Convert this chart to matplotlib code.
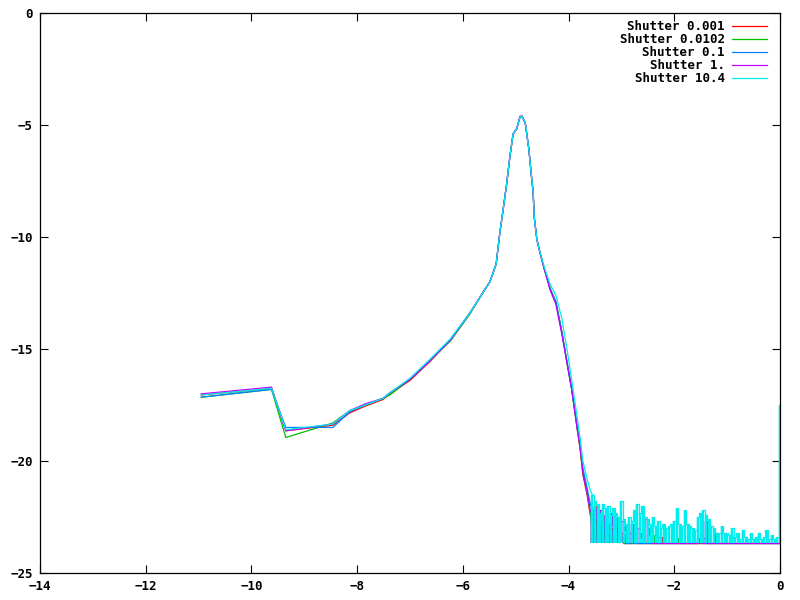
import matplotlib
matplotlib.use("Agg")
import matplotlib.pyplot as plt

# colours as in gnuplot's default line types
colors = ['#ff0000', '#00c000', '#0080ff', '#c000ff', '#00eeee']
labels = ['Shutter 0.001', 'Shutter 0.0102', 'Shutter 0.1', 'Shutter 1.', 'Shutter 10.4']

# main part of the curve (shared x samples)
x_main = [-10.95, -9.62, -9.35, -8.46, -8.14, -7.85, -7.51, -7.38, -7.0, -6.62,
          -6.24, -5.87, -5.68, -5.49, -5.37, -5.30, -5.24, -5.17, -5.11, -5.05,
          -4.98, -4.92, -4.88, -4.82, -4.79, -4.75, -4.71, -4.67, -4.65, -4.60,
          -4.54, -4.45, -4.35, -4.24, -4.13, -4.03, -3.94, -3.84, -3.78, -3.73,
          -3.65, -3.59]

y_red = [-17.05, -16.75, -18.65, -18.40, -17.85, -17.55, -17.25, -17.00, -16.40, -15.55,
         -14.60, -13.40, -12.70, -12.00, -11.20, -9.80, -8.80, -7.60, -6.40, -5.40,
         -5.15, -4.65, -4.60, -4.90, -5.40, -6.10, -7.10, -8.00, -9.10, -10.10,
         -10.70, -11.50, -12.30, -12.90, -14.20, -15.60, -16.80, -18.50, -19.50, -20.60,
         -21.50, -22.40]
y_green = [-17.15, -16.80, -18.95, -18.30, -17.75, -17.50, -17.20, -17.05, -16.35, -15.50,
           -14.65, -13.45, -12.70, -12.00, -11.20, -9.80, -8.80, -7.60, -6.40, -5.40,
           -5.15, -4.65, -4.60, -4.90, -5.40, -6.10, -7.10, -8.00, -9.10, -10.10,
           -10.70, -11.50, -12.30, -12.90, -14.20, -15.60, -16.80, -18.50, -19.40, -20.50,
           -21.40, -22.30]
y_blue = [-17.15, -16.80, -18.50, -18.50, -17.80, -17.50, -17.20, -16.95, -16.35, -15.50,
          -14.60, -13.40, -12.70, -12.00, -11.20, -9.80, -8.80, -7.60, -6.40, -5.40,
          -5.15, -4.65, -4.60, -4.90, -5.40, -6.10, -7.10, -8.00, -9.10, -10.10,
          -10.70, -11.50, -12.30, -12.90, -14.20, -15.60, -16.80, -18.40, -19.30, -20.30,
          -21.20, -21.90]
y_magenta = [-17.00, -16.70, -18.65, -18.35, -17.75, -17.45, -17.20, -16.95, -16.35, -15.50,
             -14.60, -13.40, -12.70, -12.00, -11.20, -9.80, -8.80, -7.60, -6.40, -5.40,
             -5.15, -4.60, -4.60, -4.90, -5.40, -6.10, -7.10, -8.00, -9.10, -10.10,
             -10.70, -11.50, -12.35, -13.00, -14.30, -15.60, -16.80, -18.50, -19.40, -20.50,
             -21.40, -22.20]
y_cyan = [-17.05, -16.75, -18.60, -18.35, -17.75, -17.50, -17.20, -16.95, -16.30, -15.45,
          -14.55, -13.40, -12.70, -12.00, -11.20, -9.80, -8.80, -7.60, -6.40, -5.40,
          -5.15, -4.65, -4.60, -4.90, -5.40, -6.10, -7.10, -8.00, -9.10, -10.10,
          -10.70, -11.40, -12.10, -12.60, -13.60, -15.00, -16.40, -18.00, -19.00, -20.00,
          -20.80, -21.30]

# noisy tail near the floor
x_tail = [-3.55, -3.50, -3.45, -3.40, -3.35, -3.30, -3.25, -3.20, -3.15, -3.10, -3.05, -3.00,
          -2.95, -2.90, -2.85, -2.80, -2.75, -2.70, -2.65, -2.60, -2.55, -2.50, -2.45, -2.40,
          -2.35, -2.30, -2.25, -2.20, -2.15, -2.10, -2.05, -2.00, -1.95, -1.90, -1.85, -1.80,
          -1.75, -1.70, -1.65, -1.60, -1.55, -1.50, -1.45, -1.40, -1.35, -1.30, -1.25, -1.20,
          -1.15, -1.10, -1.05, -1.00, -0.95, -0.90, -0.85, -0.80, -0.75, -0.70, -0.65, -0.60,
          -0.55, -0.50, -0.45, -0.40, -0.35, -0.30, -0.25, -0.20, -0.15, -0.10, -0.05, 0.00]
floor = -23.65

t_red = [-22.6, -22.0, -22.9, -22.3, -23.1, -22.7, -23.3, -23.0, -23.4, -22.8, -23.5, -23.2,
         -23.65, -23.65, -23.65, -23.65, -23.3, -23.65, -23.65, -23.65, -23.65, -23.65, -23.65, -23.65,
         -23.65, -23.65, -23.65, -23.4, -23.65, -23.65, -23.65, -23.65, -23.65, -23.65, -23.65, -23.65,
         -23.65, -23.65, -23.65, -23.65, -23.65, -23.65, -23.65, -23.65, -23.65, -23.65, -23.65, -23.65,
         -23.65, -23.65, -23.65, -23.65, -23.65, -23.65, -23.65, -23.65, -23.65, -23.65, -23.65, -23.65,
         -23.65, -23.65, -23.65, -23.65, -23.65, -23.65, -23.65, -23.65, -23.65, -23.65, -23.65, -23.65]
t_green = [-23.2, -22.8, -23.4, -22.9, -23.5, -23.1, -23.6, -23.3, -23.5, -23.2, -23.6, -23.4,
           -23.65, -23.65, -23.65, -23.65, -23.65, -23.65, -23.65, -23.65, -23.65, -23.65, -23.65, -23.3,
           -23.65, -23.65, -23.65, -23.65, -23.65, -23.65, -23.65, -23.65, -23.45, -23.65, -23.65, -23.65,
           -23.65, -23.65, -23.65, -23.65, -23.65, -23.65, -23.65, -23.65, -23.65, -23.65, -23.65, -23.65,
           -23.65, -23.65, -23.65, -23.65, -23.65, -23.65, -23.65, -23.65, -23.65, -23.65, -23.65, -23.65,
           -23.65, -23.65, -23.65, -23.65, -23.65, -23.65, -23.65, -23.65, -23.65, -23.65, -23.65, -23.65]
t_blue = [-22.2, -22.6, -22.4, -22.9, -22.7, -23.2, -22.9, -23.3, -23.1, -23.4, -23.2, -23.5,
          -23.3, -23.65, -23.65, -23.4, -23.65, -23.65, -23.65, -23.65, -23.65, -23.65, -23.65, -23.65,
          -23.65, -23.65, -23.65, -23.65, -23.65, -23.65, -23.65, -23.65, -23.65, -23.65, -23.65, -23.65,
          -23.65, -23.65, -23.65, -23.65, -23.45, -23.45, -23.45, -23.65, -23.65, -23.65, -23.65, -23.65,
          -23.65, -23.65, -23.65, -23.65, -23.65, -23.65, -23.65, -23.65, -23.65, -23.65, -23.65, -23.65,
          -23.65, -23.65, -23.5, -23.65, -23.65, -23.65, -23.65, -23.65, -23.65, -23.65, -23.65, -23.65]
t_magenta = [-22.4, -22.1, -22.5, -22.2, -22.7, -22.4, -22.8, -22.3, -22.9, -22.5, -23.0, -22.7,
             -23.1, -22.9, -23.2, -22.8, -23.3, -23.0, -23.4, -23.2, -22.6, -23.3, -23.0, -23.65,
             -23.65, -23.4, -23.65, -23.65, -23.65, -23.65, -23.65, -23.65, -23.65, -23.65, -23.65, -23.65,
             -23.65, -23.65, -23.65, -23.65, -23.65, -23.5, -23.65, -22.7, -23.65, -23.65, -23.65, -23.2,
             -23.65, -23.65, -23.65, -23.65, -23.65, -23.4, -23.65, -23.65, -23.65, -23.65, -23.65, -23.65,
             -23.65, -23.65, -23.65, -23.65, -23.65, -23.65, -23.65, -23.65, -23.65, -23.65, -23.65, -23.65]
t_cyan = [-21.5, -21.8, -21.9, -22.3, -21.9, -22.1, -22.0, -22.4, -22.1, -22.3, -22.5, -21.8,
          -22.6, -22.8, -22.5, -22.7, -22.2, -21.9, -22.3, -22.0, -22.5, -22.6, -22.8, -22.5,
          -22.9, -22.7, -23.0, -22.8, -23.0, -22.9, -22.8, -22.7, -22.1, -22.8, -22.9, -22.2,
          -22.8, -22.9, -23.0, -23.1, -22.5, -22.3, -22.2, -22.4, -22.6, -22.9, -23.0, -23.2,
          -23.2, -22.9, -23.2, -23.2, -23.3, -23.0, -23.4, -23.2, -23.5, -23.1, -23.4, -23.5,
          -23.2, -23.5, -23.4, -23.2, -23.5, -23.4, -23.1, -23.5, -23.3, -23.5, -23.4, -17.5]

mains = [y_red, y_green, y_blue, y_magenta, y_cyan]
tails = [t_red, t_green, t_blue, t_magenta, t_cyan]

font = {'family': 'DejaVu Sans Mono', 'weight': 'bold', 'size': 9}

fig = plt.figure(figsize=(8, 6), dpi=100)
ax = fig.add_axes([0.05, 0.045, 0.925, 0.933])

for ym, yt, c, lab in zip(mains, tails, colors, labels):
    ax.plot(x_main + [x_tail[0]], ym + [yt[0]], color=c, lw=0.9, label=lab)
    ax.plot(x_tail, yt, color=c, lw=0.9, drawstyle='steps-mid')
    ax.vlines(x_tail, floor, yt, color=c, lw=1.75)

ax.set_xlim(-14, 0)
ax.set_ylim(-25, 0)
ax.set_xticks(range(-14, 1, 2))
ax.set_yticks(range(-25, 1, 5))
ax.tick_params(direction='in', length=6, width=0.8, top=True, right=True, pad=5)
for lbl in ax.get_xticklabels() + ax.get_yticklabels():
    lbl.set_fontfamily('DejaVu Sans Mono')
    lbl.set_fontweight('bold')
    lbl.set_fontsize(9)
for sp in ax.spines.values():
    sp.set_linewidth(0.9)

ax.legend(loc='upper right', bbox_to_anchor=(0.982, 0.988), borderaxespad=0, borderpad=0,
          frameon=False, handlelength=2.8, handletextpad=0.55, labelspacing=0.0,
          markerfirst=False, prop=font)

fig.savefig('out.png', dpi=100)
